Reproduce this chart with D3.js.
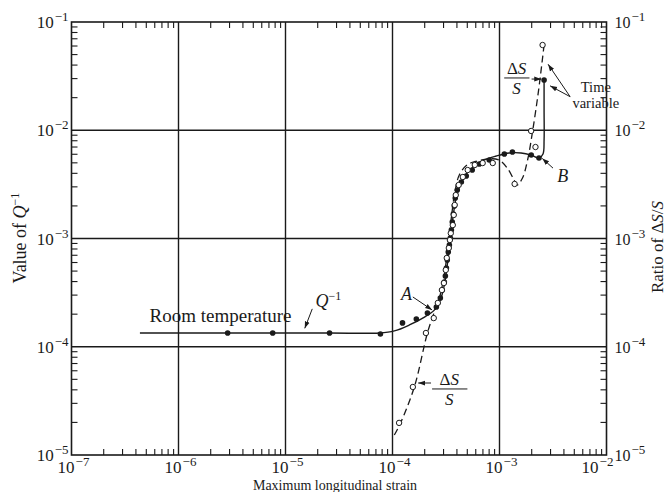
<!DOCTYPE html>
<html>
<head>
<meta charset="utf-8">
<script src="https://cdn.jsdelivr.net/npm/d3@7"></script>
<style>
body { margin: 0; background: #fff; }
text { font-family: "Liberation Serif", "Times New Roman", serif; fill: #1a1a1a; }
</style>
</head>
<body>
<div id="chart"></div>
<script>

// decade exponents on each axis
var xExps = [-7, -6, -5, -4, -3, -2];
var yExps = [-5, -4, -3, -2, -1];

// solid curve, Q^-1 against strain
var qCurve = [
  [4.36e-7, 1.34e-4], [4.62e-6, 1.34e-4], [2.58e-5, 1.34e-4], [7.55e-5, 1.34e-4],
  [1.04e-4, 1.40e-4], [1.44e-4, 1.59e-4], [1.99e-4, 1.88e-4], [2.46e-4, 2.18e-4],
  [2.80e-4, 2.70e-4], [3.05e-4, 3.72e-4], [3.25e-4, 5.69e-4], [3.47e-4, 9.68e-4],
  [3.70e-4, 1.65e-3], [3.94e-4, 2.42e-3], [4.29e-4, 3.12e-3], [4.89e-4, 3.94e-3],
  [5.81e-4, 4.68e-3], [7.19e-4, 5.31e-3], [9.31e-4, 5.78e-3], [1.23e-3, 6.17e-3],
  [1.59e-3, 6.17e-3], [1.98e-3, 5.90e-3], [2.34e-3, 5.55e-3], [2.55e-3, 6.04e-3],
  [2.61e-3, 8.13e-3], [2.61e-3, 1.54e-2], [2.61e-3, 2.91e-2]
];

// dashed curve, ratio dS/S against strain
var dsCurve = [
  [1.04e-4, 1.53e-5], [1.19e-4, 1.98e-5], [1.60e-4, 4.25e-5], [2.12e-4, 1.34e-4],
  [2.46e-4, 2.09e-4], [2.74e-4, 2.82e-4], [2.99e-4, 4.14e-4], [3.19e-4, 6.33e-4],
  [3.40e-4, 1.08e-3], [3.62e-4, 1.83e-3], [3.86e-4, 2.81e-3], [4.21e-4, 3.86e-3],
  [5.00e-4, 4.80e-3], [6.19e-4, 5.20e-3], [8.02e-4, 5.45e-3], [9.93e-4, 5.31e-3],
  [1.18e-3, 4.48e-3], [1.37e-3, 3.47e-3], [1.46e-3, 3.12e-3], [1.64e-3, 3.62e-3],
  [1.83e-3, 5.31e-3], [2.04e-3, 9.85e-3], [2.32e-3, 2.35e-2], [2.61e-3, 6.13e-2]
];

// measured points (filled = Q^-1, open = dS/S)
var qPoints = [
  [2.88e-6, 1.34e-4], [7.59e-6, 1.34e-4], [2.58e-5, 1.34e-4], [7.71e-5, 1.31e-4],
  [1.24e-4, 1.66e-4], [1.67e-4, 1.80e-4], [2.12e-4, 2.05e-4], [2.57e-4, 2.33e-4],
  [2.80e-4, 2.82e-4], [2.92e-4, 3.34e-4], [3.05e-4, 3.96e-4], [3.12e-4, 4.51e-4],
  [3.19e-4, 5.34e-4], [3.25e-4, 6.33e-4], [3.32e-4, 7.50e-4], [3.40e-4, 8.71e-4],
  [3.47e-4, 1.01e-3], [3.55e-4, 1.20e-3], [3.62e-4, 1.42e-3], [3.70e-4, 1.68e-3],
  [3.78e-4, 2.00e-3], [3.86e-4, 2.37e-3], [4.03e-4, 2.81e-3], [4.40e-4, 3.33e-3],
  [4.89e-4, 3.78e-3], [5.56e-4, 4.29e-3], [6.47e-4, 4.88e-3], [8.02e-4, 5.31e-3],
  [1.11e-3, 6.04e-3], [1.32e-3, 6.30e-3], [1.98e-3, 5.90e-3], [2.34e-3, 5.55e-3],
  [2.61e-3, 2.91e-2]
];
var dsPoints = [
  [1.19e-4, 1.98e-5], [1.60e-4, 4.25e-5], [2.12e-4, 1.34e-4], [2.51e-4, 1.84e-4],
  [2.74e-4, 2.54e-4], [2.99e-4, 3.34e-4], [3.12e-4, 3.88e-4], [3.25e-4, 5.12e-4],
  [3.32e-4, 6.61e-4], [3.47e-4, 8.17e-4], [3.55e-4, 9.68e-4], [3.62e-4, 1.12e-3],
  [3.78e-4, 1.33e-3], [3.86e-4, 1.65e-3], [3.94e-4, 2.04e-3], [4.03e-4, 2.52e-3],
  [4.29e-4, 3.12e-3], [4.69e-4, 3.70e-3], [5.21e-4, 4.29e-3], [6.07e-4, 4.78e-3],
  [7.19e-4, 4.98e-3], [8.93e-4, 4.98e-3], [1.43e-3, 3.19e-3], [2.04e-3, 9.85e-3],
  [2.24e-3, 7.00e-3], [2.61e-3, 6.13e-2]
];

var W = 667, H = 492;
var plot = {left: 71.5, right: 606.5, top: 22, bottom: 455};
var ink = "#1a1a1a";

var svg = d3.select("#chart").append("svg")
    .attr("width", W)
    .attr("height", H);

var x = d3.scaleLog().domain([1e-7, 1e-2]).range([plot.left, plot.right]);
var y = d3.scaleLog().domain([1e-5, 1e-1]).range([plot.bottom, plot.top]);

// position from decimal exponents (annotations)
var at = function(lx, ly) { return [x(Math.pow(10, lx)), y(Math.pow(10, ly))]; };

svg.append("defs").append("marker")
    .attr("id", "arrow")
    .attr("viewBox", "0 0 10 10")
    .attr("refX", 10).attr("refY", 5)
    .attr("markerWidth", 7).attr("markerHeight", 7)
    .attr("orient", "auto")
    .append("path")
    .attr("d", "M0,1.5L10,5L0,8.5Z")
    .attr("fill", ink);

var isMinor = function(v) {
    var l = Math.log10(v);
    return Math.abs(l - Math.round(l)) > 1e-6;
};
var xMinor = x.ticks().filter(isMinor);
var yMinor = y.ticks().filter(isMinor);
var tl = 6;

var g = svg.append("g").attr("stroke", ink).attr("fill", "none");

// grid at every decade
g.selectAll(".vgrid").data(xExps.slice(1, -1)).enter().append("line")
    .attr("x1", function(e) { return x(Math.pow(10, e)); })
    .attr("x2", function(e) { return x(Math.pow(10, e)); })
    .attr("y1", plot.top).attr("y2", plot.bottom)
    .attr("stroke-width", 1.4);
g.selectAll(".hgrid").data(yExps.slice(1, -1)).enter().append("line")
    .attr("y1", function(e) { return y(Math.pow(10, e)); })
    .attr("y2", function(e) { return y(Math.pow(10, e)); })
    .attr("x1", plot.left).attr("x2", plot.right)
    .attr("stroke-width", 1.4);

// minor ticks, pointing inward on all four sides
g.selectAll(".bt").data(xMinor).enter().append("line")
    .attr("x1", function(d) { return x(d); }).attr("x2", function(d) { return x(d); })
    .attr("y1", plot.bottom).attr("y2", plot.bottom - tl).attr("stroke-width", 1.1);
g.selectAll(".tt").data(xMinor).enter().append("line")
    .attr("x1", function(d) { return x(d); }).attr("x2", function(d) { return x(d); })
    .attr("y1", plot.top).attr("y2", plot.top + tl).attr("stroke-width", 1.1);
g.selectAll(".lt").data(yMinor).enter().append("line")
    .attr("y1", function(d) { return y(d); }).attr("y2", function(d) { return y(d); })
    .attr("x1", plot.left).attr("x2", plot.left + tl).attr("stroke-width", 1.1);
g.selectAll(".rt").data(yMinor).enter().append("line")
    .attr("y1", function(d) { return y(d); }).attr("y2", function(d) { return y(d); })
    .attr("x1", plot.right).attr("x2", plot.right - tl).attr("stroke-width", 1.1);

g.append("rect")
    .attr("x", plot.left).attr("y", plot.top)
    .attr("width", plot.right - plot.left).attr("height", plot.bottom - plot.top)
    .attr("stroke-width", 1.6);

// tick labels like 10^-3
var powLabel = function(sel, e) {
    sel.append("tspan").text("10");
    sel.append("tspan").attr("dx", 1).attr("dy", -7).attr("font-size", 13).text("\u2212" + Math.abs(e));
};

svg.selectAll(".ylab").data(yExps).enter().append("text")
    .attr("x", plot.left - 3)
    .attr("y", function(e) { return y(Math.pow(10, e)) + 6; })
    .attr("text-anchor", "end")
    .attr("font-size", 17)
    .each(function(e) { powLabel(d3.select(this), e); });

svg.selectAll(".y2lab").data(yExps).enter().append("text")
    .attr("x", plot.right + 8)
    .attr("y", function(e) { return y(Math.pow(10, e)) + 6; })
    .attr("font-size", 16)
    .each(function(e) { powLabel(d3.select(this), e); });

// last bottom label nudged left to clear the right-hand 10^-5
svg.selectAll(".xlab").data(xExps).enter().append("text")
    .attr("x", function(e) { return x(Math.pow(10, e)) + (e === -2 ? -9 : 2); })
    .attr("y", plot.bottom + 18)
    .attr("text-anchor", "middle")
    .attr("font-size", 17)
    .each(function(e) { powLabel(d3.select(this), e); });

// axis titles
svg.append("text")
    .attr("x", (plot.left + plot.right) / 2 - 4)
    .attr("y", 490)
    .attr("text-anchor", "middle")
    .attr("font-size", 14)
    .text("Maximum longitudinal strain");

var lt = svg.append("text")
    .attr("transform", "translate(26,238) rotate(-90)")
    .attr("text-anchor", "middle")
    .attr("font-size", 18);
lt.append("tspan").text("Value of ");
lt.append("tspan").attr("font-style", "italic").text("Q");
lt.append("tspan").attr("dy", -7).attr("font-size", 12).text("\u22121");

var rt = svg.append("text")
    .attr("transform", "translate(663,247) rotate(-90)")
    .attr("text-anchor", "middle")
    .attr("font-size", 17);
rt.append("tspan").text("Ratio of \u0394");
rt.append("tspan").attr("font-style", "italic").text("S");
rt.append("tspan").text("/");
rt.append("tspan").attr("font-style", "italic").text("S");

// curves
var line = d3.line()
    .x(function(d) { return x(d[0]); })
    .y(function(d) { return y(d[1]); })
    .curve(d3.curveCatmullRom.alpha(0.5));

svg.append("path").datum(qCurve)
    .attr("d", line)
    .attr("fill", "none").attr("stroke", ink).attr("stroke-width", 1.4);
svg.append("path").datum(dsCurve)
    .attr("d", line)
    .attr("fill", "none").attr("stroke", ink).attr("stroke-width", 1.3)
    .attr("stroke-dasharray", "7,4");

svg.selectAll(".qp").data(qPoints).enter().append("circle")
    .attr("cx", function(d) { return x(d[0]); })
    .attr("cy", function(d) { return y(d[1]); })
    .attr("r", 2.8)
    .attr("fill", ink);
svg.selectAll(".dp").data(dsPoints).enter().append("circle")
    .attr("cx", function(d) { return x(d[0]) - 1.5; })
    .attr("cy", function(d) { return y(d[1]); })
    .attr("r", 2.7)
    .attr("fill", "#fff").attr("stroke", ink).attr("stroke-width", 1);

// annotations
var arrow = function(a, b) {
    svg.append("line")
        .attr("x1", a[0]).attr("y1", a[1]).attr("x2", b[0]).attr("y2", b[1])
        .attr("stroke", ink).attr("stroke-width", 1)
        .attr("marker-end", "url(#arrow)");
};
var label = function(p, s, size, italic, anchor) {
    return svg.append("text")
        .attr("x", p[0]).attr("y", p[1])
        .attr("font-size", size)
        .attr("font-style", italic ? "italic" : null)
        .attr("text-anchor", anchor || "start")
        .text(s);
};

label(at(-6.27, -3.77), "Room temperature", 19);

var qp = at(-4.72, -3.63);
var ql = svg.append("text").attr("x", qp[0]).attr("y", qp[1]).attr("font-size", 18);
ql.append("tspan").attr("font-style", "italic").text("Q");
ql.append("tspan").attr("dy", -7).attr("font-size", 12).text("\u22121");
arrow(at(-4.75, -3.65), at(-4.82, -3.83));

label(at(-3.92, -3.57), "A", 18, true);
arrow(at(-3.81, -3.54), at(-3.63, -3.66));

label(at(-2.46, -2.48), "B", 18, true);
arrow(at(-2.50, -2.35), at(-2.60, -2.26));

var frac = function(cx, lyTop, lyBar, lyBot, lx0, lx1) {
    var t = svg.append("text")
        .attr("x", at(cx, lyTop)[0]).attr("y", at(cx, lyTop)[1])
        .attr("font-size", 17).attr("text-anchor", "middle");
    t.append("tspan").text("\u0394");
    t.append("tspan").attr("font-style", "italic").text("S");
    svg.append("line")
        .attr("x1", at(lx0, lyBar)[0]).attr("x2", at(lx1, lyBar)[0])
        .attr("y1", at(lx0, lyBar)[1]).attr("y2", at(lx0, lyBar)[1])
        .attr("stroke", ink).attr("stroke-width", 1);
    label(at(cx, lyBot), "S", 17, true, "middle");
};

frac(-2.84, -1.48, -1.517, -1.665, -2.956, -2.72);
arrow(at(-2.70, -1.527), at(-2.61, -1.527));

var tp = at(-2.10, -1.645);
var tv = svg.append("text")
    .attr("x", tp[0]).attr("y", tp[1])
    .attr("font-size", 14.5).attr("text-anchor", "middle");
tv.append("tspan").attr("x", tp[0]).text("Time");
tv.append("tspan").attr("x", tp[0]).attr("dy", 16).text("variable");
arrow(at(-2.34, -1.69), at(-2.546, -1.39));
arrow(at(-2.34, -1.69), at(-2.527, -1.59));

frac(-3.47, -4.35, -4.39, -4.54, -3.63, -3.30);
arrow(at(-3.64, -4.335), at(-3.76, -4.335));

</script>
</body>
</html>
